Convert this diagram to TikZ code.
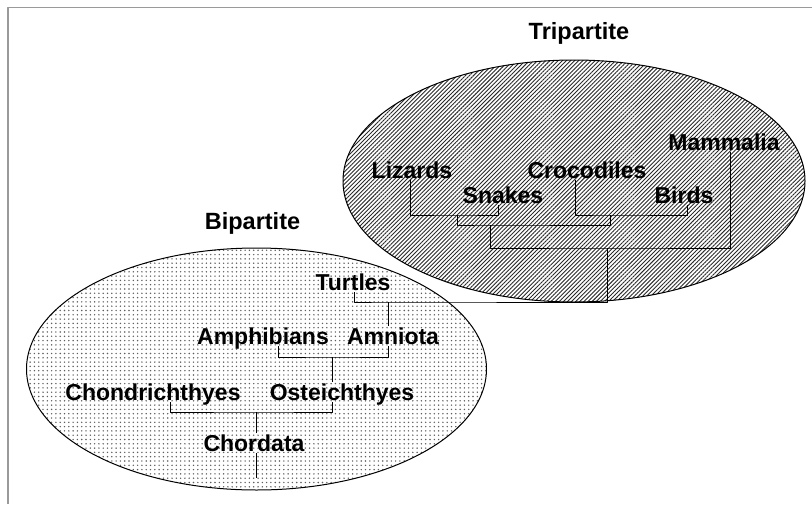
\documentclass[tikz,border=0pt]{standalone}
\usepackage{fontspec}
\setmainfont{Liberation Sans}
\usetikzlibrary{patterns.meta}
\definecolor{bordergray}{HTML}{9A9A9A}
\definecolor{dotgray}{HTML}{5E5E5E}
\definecolor{hatchgray}{HTML}{2A2A2A}

\begin{document}
\begin{tikzpicture}[
  x=1pt,
  y=-1pt,
  line join=round,
  taxon/.style={font=\fontsize{23}{23}\selectfont\bfseries,inner sep=2pt,
    text height=16.5pt,text depth=0pt},
  grade/.style={font=\fontsize{23.5}{24}\selectfont\bfseries,inner sep=0pt},
  branch/.style={draw=black,line width=0.9pt},
  rim/.style={draw=black,line width=1pt},
  border/.style={draw=bordergray,line width=1.5pt}
]
  \fill[white] (0,0) rectangle (812,504);
  \useasboundingbox (0,0) rectangle (812,504);
  \draw[border] (8,504) -- (8,7.5) -- (812,7.5);

  % The two groupings.
  \draw[rim,pattern={Lines[angle=45,distance=2.9pt,line width=0.9pt]},pattern color=hatchgray]
    (574,181) ellipse [x radius=231pt,y radius=121pt];
  \draw[rim,pattern={Dots[distance=4.3pt,radius=0.8pt]},pattern color=dotgray]
    (256.5,369) ellipse [x radius=230pt,y radius=121pt];

  \node[grade] (tri) at (579,33) {Tripartite};
  \node[grade] (bi) at (252.5,223) {Bipartite};

  % Taxa.
  \node[taxon] (liz) at (412,170) {Lizards};
  \node[taxon] (snk) at (503,195) {Snakes};
  \node[taxon] (croc) at (587,170) {Crocodiles};
  \node[taxon] (bird) at (684,195) {Birds};
  \node[taxon] (mam) at (724,142) {Mammalia};
  \node[taxon] (tur) at (353,282) {Turtles};
  \node[taxon] (amph) at (263,336) {Amphibians};
  \node[taxon] (amn) at (393,336) {Amniota};
  \node[taxon] (chon) at (153,392) {Chondrichthyes};
  \node[taxon] (ost) at (342,392) {Osteichthyes};
  \node[taxon] (chor) at (254,443) {Chordata};

  % Branch points.
  \coordinate (ls) at (457,215);
  \coordinate (cb) at (610,215);
  \coordinate (lcb) at (490,225);
  \coordinate (tm) at (607,248);
  \coordinate (ta) at (388,302);
  \coordinate (aa) at (332,357);
  \coordinate (cc) at (256,412);
  \coordinate (stem) at (256,478);

  % Tree.
  \draw[branch] ([xshift=-2pt]liz.south) |- (ls) -| ([xshift=-5pt]snk.south);
  \draw[branch] ([xshift=-12pt]croc.south) |- (cb) -| ([xshift=3pt]bird.south);
  \draw[branch] (ls) |- (lcb) -| (cb);
  \draw[branch] (lcb) |- (tm) -| ([xshift=6pt]mam.south);
  \draw[branch] (tm) |- (ta) -| ([xshift=1pt]tur.south);
  \draw[branch] (ta) -- (ta |- amn.north);
  \draw[branch] (amn.south -| ta) |- (aa) -| ([xshift=15pt]amph.south);
  \draw[branch] (aa) -- (aa |- ost.north);
  \draw[branch] ([xshift=17pt]chon.south) |- (cc) -| (ost.south -| aa);
  \draw[branch] (cc) -- (cc |- chor.north);
  \draw[branch] (chor.south -| cc) -- (stem);
\end{tikzpicture}
\end{document}
